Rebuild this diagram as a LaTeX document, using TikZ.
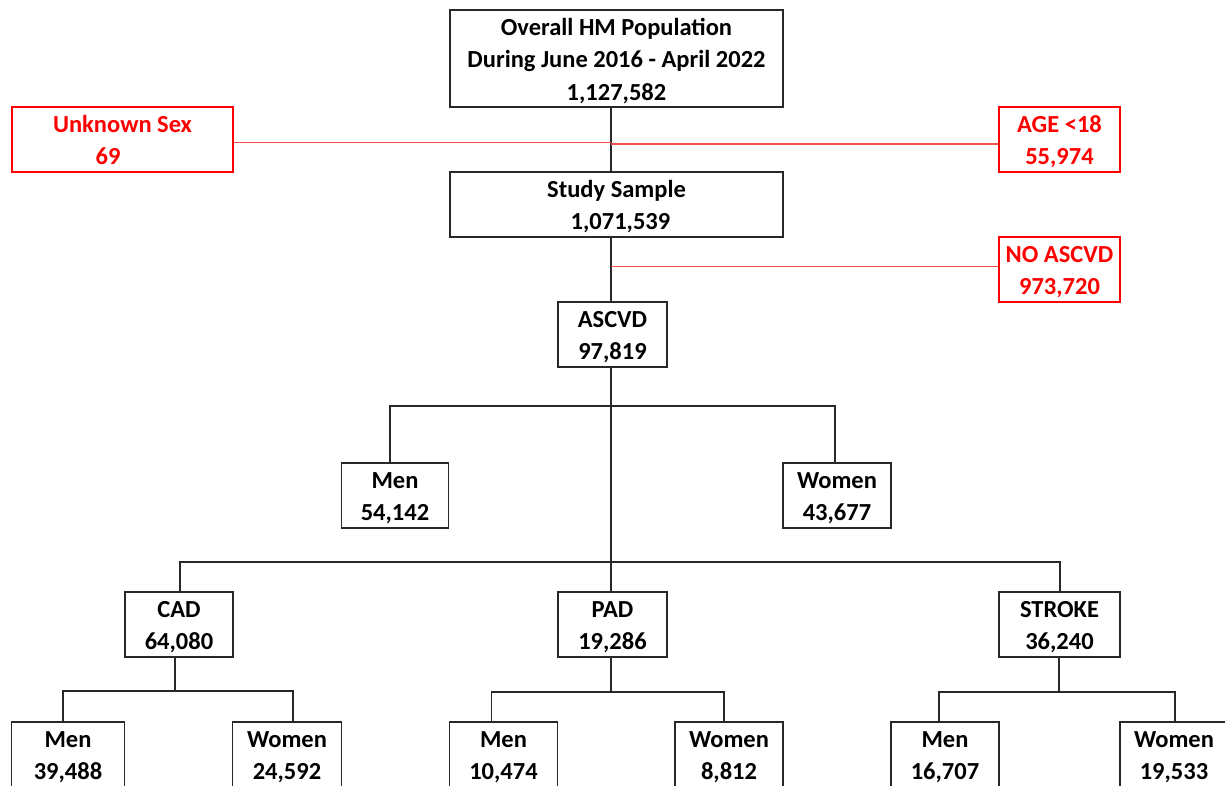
\documentclass[tikz,border=0pt]{standalone}
\usepackage{fontspec}
\setmainfont{Carlito}
\usetikzlibrary{calc}
\definecolor{boxred}{RGB}{255,0,0}
\definecolor{linered}{RGB}{240,80,80}
\definecolor{boxblack}{RGB}{40,40,40}
\newcommand\fstr{\rule{0pt}{24.4pt}}
\newcommand\lstr{\rule[-6pt]{0pt}{6pt}}
\tikzset{
  fbox/.style={draw=boxblack, line width=1.2pt, inner sep=0pt, align=center,
    text=black, font=\bfseries\fontsize{24.5}{32.5}\selectfont, minimum height=65pt},
  rbox/.style={fbox, draw=boxred, text=boxred},
  conn/.style={draw=boxblack, line width=1.2pt},
  rconn/.style={draw=linered, line width=1.3pt}
}
\begin{document}
\begin{tikzpicture}[x=1pt,y=-1pt]
\clip (0,0) rectangle (1225,786);
\fill[white] (0,0) rectangle (1225,786);
\coordinate (tx) at (611,0);
% nodes
\node[fbox, minimum width=333pt, minimum height=97pt] (top) at (616.5,58.5)
  {\fstr Overall HM Population\\During June 2016 - April 2022\\1,127,582\lstr};
\node[rbox, minimum width=221pt] (unk) at (122.5,139.5) {\fstr Unknown Sex\\69\hspace*{29pt}\lstr};
\node[rbox, minimum width=121pt] (age) at (1059.5,139.5) {\fstr AGE <18\\55,974\lstr};
\node[fbox, minimum width=333pt] (study) at (616.5,204.5) {\fstr Study Sample\\\hspace*{8pt}1,071,539\lstr};
\node[rbox, minimum width=121pt] (noascvd) at (1059.5,269.5) {\fstr NO ASCVD\\973,720\lstr};
\node[fbox, minimum width=109pt] (ascvd) at (612.5,334.5) {\fstr ASCVD\\97,819\lstr};
\node[fbox, minimum width=107pt] (men) at (395,495.5) {\fstr Men\\54,142\lstr};
\node[fbox, minimum width=108pt] (women) at (837,495.5) {\fstr Women\\43,677\lstr};
\node[fbox, minimum width=108pt] (cad) at (179,624.5) {\fstr CAD\\64,080\lstr};
\node[fbox, minimum width=109pt] (pad) at (612.5,624.5) {\fstr PAD\\19,286\lstr};
\node[fbox, minimum width=121pt] (stroke) at (1059.5,624.5) {\fstr STROKE\\36,240\lstr};
\node[fbox, minimum width=113pt] (cadm) at (68,754.5) {\fstr Men\\39,488\lstr};
\node[fbox, minimum width=109pt] (cadw) at (287,754.5) {\fstr Women\\24,592\lstr};
\node[fbox, minimum width=108pt] (padm) at (503.5,754.5) {\fstr Men\\10,474\lstr};
\node[fbox, minimum width=108pt] (padw) at (729,754.5) {\fstr Women\\8,812\lstr};
\node[fbox, minimum width=108pt] (strm) at (945,754.5) {\fstr Men\\16,707\lstr};
\node[fbox, minimum width=108pt] (strw) at (1174,754.5) {\fstr Women\\19,533\lstr};
% junction coordinates
\coordinate (h1) at (611,406);
\coordinate (h2) at (611,562);
% trunk
\draw[conn] (top.south -| tx) -- (study.north -| tx);
\draw[conn] (study.south -| tx) -- (ascvd.north -| tx);
\draw[conn] (ascvd.south -| tx) -- (pad.north -| tx);
% exclusions
\draw[rconn] ([yshift=-3pt]unk.east) -- ([yshift=-3pt]unk.east -| tx);
\draw[rconn] ([yshift=-4.5pt]age.west) -- ([yshift=-4.5pt]age.west -| tx);
\draw[rconn] ([yshift=2.8pt]noascvd.west) -- ([yshift=2.8pt]noascvd.west -| tx);
% sex split
\draw[conn] ([xshift=-5pt]men.north) |- (h1) -| ([xshift=-2pt]women.north);
% disease split
\draw[conn] ([xshift=1pt]cad.north) |- (h2) -| ([xshift=0.5pt]stroke.north);
% CAD split
\draw[conn] ([xshift=-4pt]cad.south) -- ([xshift=-4pt]cad.south |- 0,691);
\draw[conn] ([xshift=-5pt]cadm.north) |- ([xshift=-4pt]cad.south |- 0,691) -| ([xshift=6pt]cadw.north);
% PAD split
\draw[conn] (pad.south -| tx) -- (tx |- 0,692);
\draw[conn] ([xshift=-12pt]padm.north) |- (tx |- 0,692) -| ([xshift=-5pt]padw.north);
% STROKE split
\draw[conn] ([xshift=-0.5pt]stroke.south) -- ([xshift=-0.5pt]stroke.south |- 0,692);
\draw[conn] ([xshift=-6pt]strm.north) |- ([xshift=-0.5pt]stroke.south |- 0,692) -| ([xshift=1pt]strw.north);
\end{tikzpicture}
\end{document}
